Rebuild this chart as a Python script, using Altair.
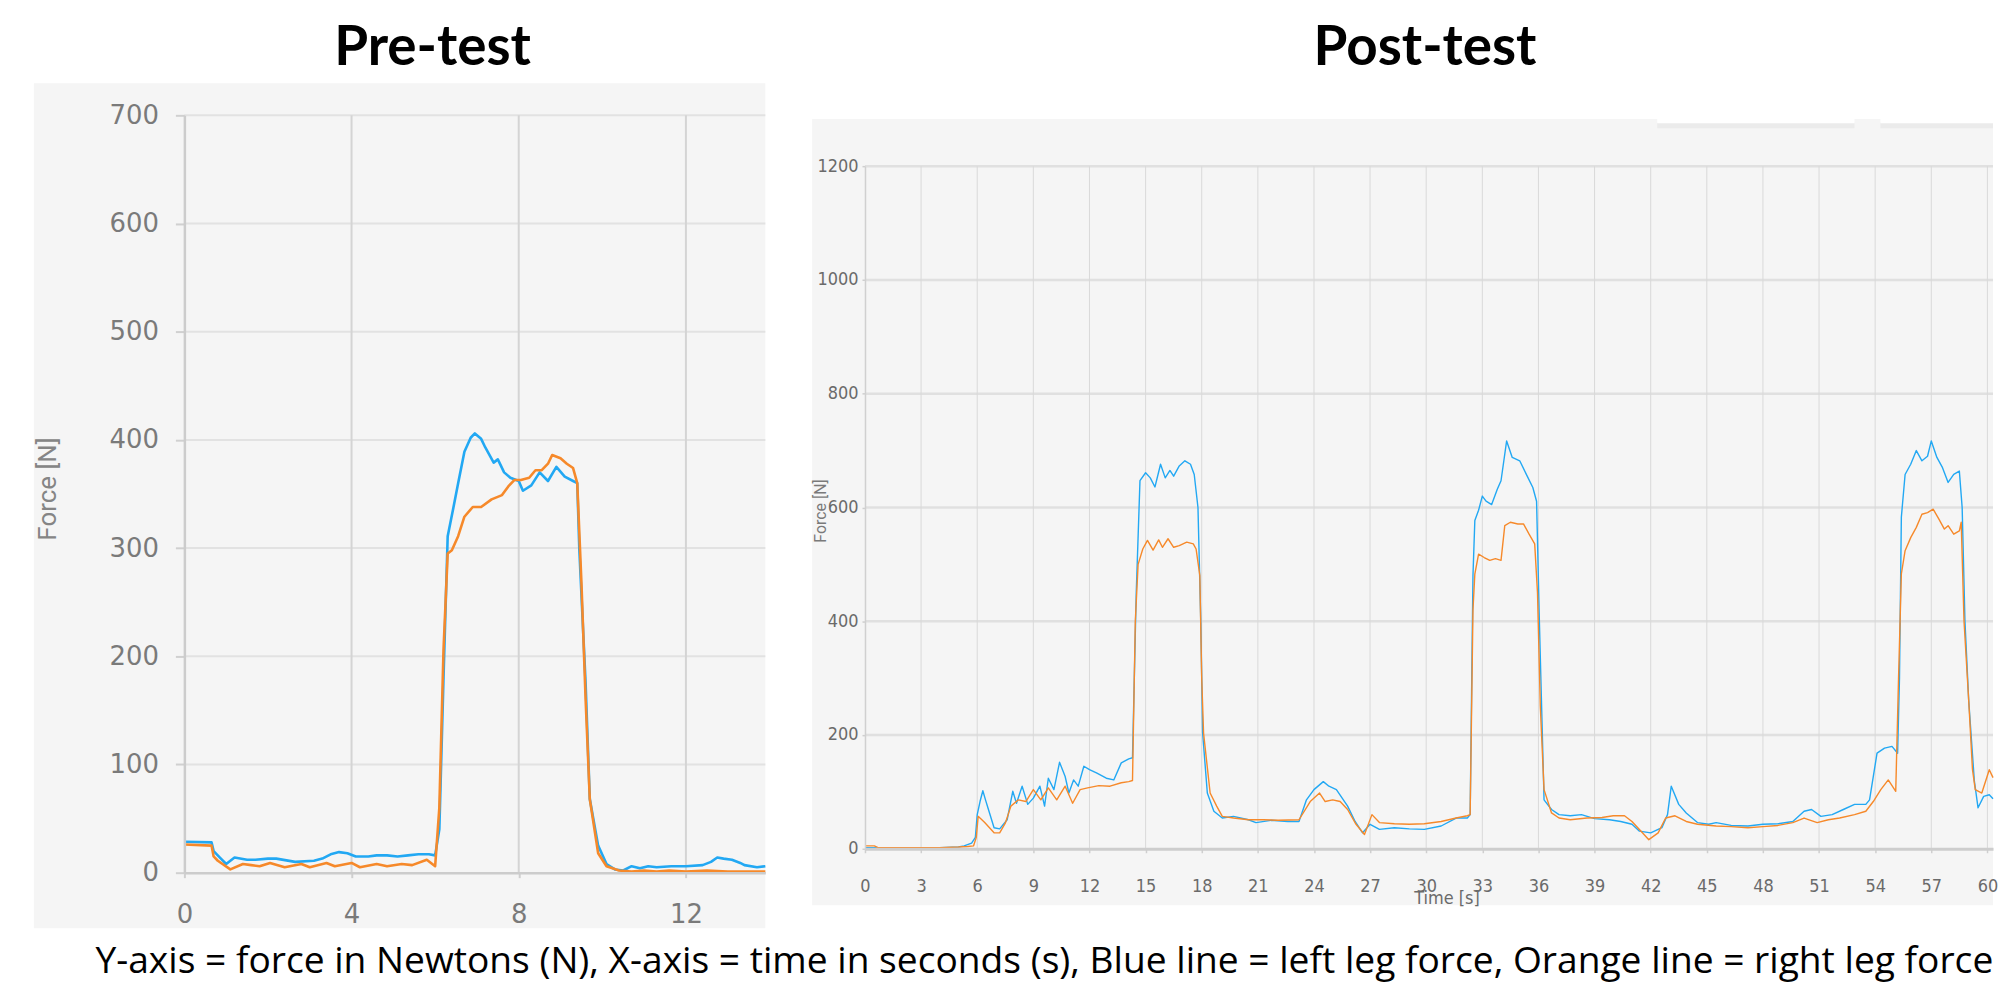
import altair as alt
import pandas as pd

# ---------------- data ----------------
PANEL_TITLES = ["Pre-test", "Post-test"]
CAPTION = ("Y-axis = force in Newtons (N), X-axis = time in seconds (s), "
           "Blue line = left leg force, Orange line = right leg force")
LEGS = ["Left leg", "Right leg"]

# Pre-test, left leg (blue)
pre_left_t = [0, 0.65, 0.7, 0.85, 1.0, 1.2, 1.5, 1.7, 2.0, 2.2, 2.65, 3.1, 3.3, 3.5, 3.7, 3.9,
              4.1, 4.4, 4.6, 4.85, 5.1, 5.35, 5.6, 5.85, 6.0, 6.1, 6.2, 6.3, 6.45, 6.55, 6.7,
              6.85, 6.95, 7.1, 7.2, 7.4, 7.5, 7.65, 7.8, 8.0, 8.1, 8.3, 8.5, 8.7, 8.9, 9.1, 9.3,
              9.4, 9.45, 9.6, 9.7, 9.9, 10.1, 10.3, 10.5, 10.7, 10.9, 11.1, 11.3, 11.65, 12.0,
              12.4, 12.6, 12.75, 12.9, 13.1, 13.3, 13.4, 13.7, 13.9]
pre_left_v = [28.6, 28, 20, 14, 8, 14, 12, 12, 13, 13, 10, 11, 13, 17, 19, 18,
              15, 15, 16, 16, 15, 16, 17, 17, 16, 40, 180, 311, 340, 360, 389,
              402, 406, 401, 393, 379, 382, 370, 365, 362, 353, 358, 370, 362, 375, 366, 362,
              360, 298, 175, 68, 25, 8, 3, 2, 6, 4, 6, 5, 6, 6,
              7, 10, 14, 13, 12, 9, 7, 5, 6]

# Pre-test, right leg (orange)
pre_right_t = [0, 0.65, 0.7, 0.8, 1.1, 1.4, 1.6, 1.8, 2.05, 2.4, 2.8, 3.0, 3.4, 3.6, 4.0, 4.2,
               4.6, 4.85, 5.2, 5.45, 5.8, 6.0, 6.1, 6.2, 6.3, 6.4, 6.55, 6.7, 6.9, 7.1, 7.35,
               7.6, 7.75, 7.9, 8.05, 8.25, 8.4, 8.55, 8.7, 8.8, 9.0, 9.15, 9.3, 9.4, 9.5, 9.6,
               9.7, 9.9, 10.1, 10.4, 10.7, 11.0, 11.3, 11.6, 12.0, 12.5, 13.0, 13.5, 13.9]
pre_right_v = [26, 25, 15, 11, 3, 8, 7, 6, 9, 5, 8, 5, 9, 6, 9, 5,
               8, 6, 8, 7, 12, 6, 60, 206, 295, 298, 311, 329, 338, 338, 345,
               349, 357, 363, 363, 365, 372, 372, 378, 386, 383, 378, 374, 360, 268, 160,
               68, 18, 6, 2, 1, 2, 1, 2, 1, 2, 1, 1, 1]

# Post-test, left leg (blue)
post_left_t = [0, 1, 2, 3, 4, 5, 5.3, 5.7, 5.9, 6.0, 6.15, 6.3, 6.45, 6.6, 6.9, 7.2, 7.6, 7.9,
               8.1, 8.4, 8.7, 9.0, 9.35, 9.6, 9.8, 10.1, 10.4, 10.7, 10.9, 11.15, 11.4, 11.7,
               12.0, 12.4, 12.9, 13.3, 13.7, 14.1, 14.3, 14.5, 14.7, 15.0, 15.25, 15.5, 15.8,
               16.05, 16.3, 16.5, 16.8, 17.1, 17.4, 17.6, 17.8, 17.95, 18.05, 18.3, 18.65, 19.1,
               19.7, 20.5, 20.9, 21.7, 22.6, 23.2, 23.6, 24.0, 24.5, 24.8, 25.2, 25.8, 26.2,
               26.6, 27.0, 27.5, 28.3, 29.1, 29.9, 30.8, 31.6, 32.2, 32.35, 32.5, 32.6, 32.8,
               33.0, 33.2, 33.5, 33.8, 34.0, 34.3, 34.6, 35.0, 35.4, 35.7, 35.9, 36.05, 36.3,
               36.7, 37.1, 37.7, 38.3, 39.0, 39.8, 40.4, 41.0, 41.4, 42.0, 42.6, 42.9, 43.1,
               43.5, 43.9, 44.5, 45.1, 45.5, 46.3, 47.2, 48.0, 48.8, 49.6, 50.2, 50.6, 51.1,
               51.7, 52.3, 52.9, 53.5, 53.7, 54.1, 54.5, 54.9, 55.2, 55.3, 55.4, 55.6, 55.9,
               56.2, 56.5, 56.8, 57.0, 57.3, 57.6, 57.9, 58.2, 58.5, 58.65, 58.8, 59.0, 59.3,
               59.5, 59.8, 60.1, 60.3]
post_left_v = [2, 2, 2, 2, 2, 3, 5, 10, 20, 60, 83, 102, 85, 69, 37, 35, 51, 101,
               80, 110, 78, 89, 110, 75, 124, 104, 152, 127, 98, 121, 110, 145,
               139, 133, 124, 121, 151, 158, 160, 450, 647, 661, 652, 636, 676,
               652, 665, 655, 673, 682, 676, 658, 600, 400, 203, 98, 66, 54,
               57, 51, 46, 50, 48, 48, 86, 104, 118, 110, 104, 75, 48,
               28, 43, 34, 37, 35, 34, 40, 54, 54, 60, 480, 577, 595,
               620, 611, 605, 632, 647, 717, 688, 682, 655, 635, 611, 400, 86,
               69, 60, 58, 60, 53, 51, 48, 43, 31, 28, 37, 60, 110,
               78, 63, 46, 43, 46, 41, 40, 43, 44, 48, 66, 69, 57,
               60, 69, 78, 78, 86, 168, 177, 180, 168, 300, 583, 658, 676,
               700, 682, 690, 717, 688, 670, 644, 658, 664, 600, 400, 261, 120,
               72, 92, 95, 88]

# Post-test, right leg (orange)
post_right_t = [0, 0.5, 0.7, 1, 2, 3, 4, 5, 5.5, 5.8, 5.95, 6.05, 6.4, 6.9, 7.2, 7.5, 7.8, 8.2,
                8.6, 9.0, 9.4, 9.8, 10.25, 10.7, 11.1, 11.5, 11.9, 12.5, 13.1, 13.7, 14.1, 14.3,
                14.45, 14.6, 14.85, 15.1, 15.4, 15.7, 15.9, 16.2, 16.5, 16.8, 17.2, 17.55, 17.7,
                17.9, 18.0, 18.1, 18.45, 18.8, 19.1, 19.7, 20.5, 21.3, 22.1, 23.2, 23.8, 24.3,
                24.6, 25.0, 25.4, 25.8, 26.25, 26.7, 27.1, 27.5, 28.3, 29.1, 29.9, 30.8, 31.6,
                32.2, 32.35, 32.5, 32.6, 32.8, 33.1, 33.4, 33.7, 34.0, 34.2, 34.5, 34.9, 35.2,
                35.5, 35.8, 35.95, 36.1, 36.3, 36.7, 37.1, 37.7, 38.6, 39.4, 40.0, 40.6, 41.0,
                41.4, 41.9, 42.4, 42.8, 43.3, 43.9, 44.5, 45.5, 46.3, 47.2, 48.0, 48.8, 49.6,
                50.2, 50.9, 51.5, 52.1, 52.9, 53.5, 53.9, 54.3, 54.7, 55.1, 55.25, 55.4, 55.6,
                55.9, 56.2, 56.5, 56.8, 57.1, 57.4, 57.7, 57.9, 58.2, 58.5, 58.6, 58.75, 59.0,
                59.2, 59.35, 59.7, 60.1, 60.3]
post_right_v = [5, 5, 2, 2, 2, 2, 2, 3, 4, 5, 20, 57, 46, 28, 28, 45, 75, 86,
                83, 104, 86, 107, 86, 110, 80, 104, 107, 111, 110, 116, 118, 120,
                400, 500, 527, 542, 525, 543, 530, 545, 530, 533, 539, 536, 527,
                480, 300, 203, 98, 75, 57, 54, 51, 51, 50, 51, 83, 98,
                83, 86, 83, 69, 43, 25, 60, 46, 44, 43, 44, 48, 54,
                58, 60, 420, 483, 518, 512, 507, 510, 507, 568, 574, 571, 571,
                553, 536, 450, 250, 104, 63, 54, 51, 54, 55, 58, 58, 48,
                34, 16, 28, 54, 58, 48, 43, 40, 39, 37, 39, 41, 46,
                54, 46, 51, 54, 60, 66, 83, 104, 121, 101, 300, 483, 524,
                547, 565, 588, 591, 597, 580, 562, 568, 553, 559, 574, 400, 261,
                140, 104, 98, 139, 125]

# axes
pre_x_ticks = [0, 4, 8, 12]
pre_y_ticks = [0, 100, 200, 300, 400, 500, 600, 700]
post_x_ticks = list(range(0, 61, 3))
post_y_ticks = [0, 200, 400, 600, 800, 1000, 1200]
pre_x_domain = [0, 13.9]
pre_y_domain = [0, 700]
post_x_domain = [0, 60.3]
post_y_domain = [0, 1200]

BLUE = "#22a8f3"
ORANGE = "#f6892a"
BG = "#f5f5f5"
NARROW = "'Liberation Sans Narrow', 'DejaVu Sans Condensed', 'Roboto Condensed', Roboto, sans-serif"


def frame(t_l, v_l, t_r, v_r):
    a = pd.DataFrame({"t": t_l, "v": v_l, "leg": LEGS[0]})
    b = pd.DataFrame({"t": t_r, "v": v_r, "leg": LEGS[1]})
    return pd.concat([a, b], ignore_index=True)


pre_df = frame(pre_left_t, pre_left_v, pre_right_t, pre_right_v)
post_df = frame(post_left_t, post_left_v, post_right_t, post_right_v)

color = alt.Color("leg:N", scale=alt.Scale(domain=LEGS, range=[BLUE, ORANGE]), legend=None)
one = alt.Data(values=[{}])

# ---------------- left panel (pre-test) ----------------
LW, LH = 583, 760
xs_pre = alt.Scale(domain=pre_x_domain, nice=False, zero=False)
ys_pre = alt.Scale(domain=pre_y_domain, nice=False)
xa_pre = alt.Axis(values=pre_x_ticks, grid=False, title=None, tickSize=5, tickColor="#cfcfcf",
                  tickWidth=2, domainColor="#cccccc", domainWidth=2.5, labelFont="DejaVu Sans",
                  labelFontSize=26, labelColor="#7a7a7a", labelPadding=24, labelFlush=False,
                  labelOverlap=False, zindex=1)
ya_pre = alt.Axis(values=pre_y_ticks, grid=False, title=None, tickSize=9, tickColor="#d0d0d0",
                  tickWidth=2, domainColor="#cccccc", domainWidth=2.5, labelFont="DejaVu Sans",
                  labelFontSize=26, labelColor="#7a7a7a", labelPadding=17, labelFlush=False,
                  labelOverlap=False, zindex=1)

anchor = alt.Chart(one).mark_rect(color="white").encode(
    x=alt.value(-177), x2=alt.value(-176), y=alt.value(-105.3), y2=alt.value(-104.3))
bg_pre = alt.Chart(one).mark_rect(color=BG).encode(
    x=alt.value(-151), x2=alt.value(LW), y=alt.value(-32.3), y2=alt.value(815.7))
hgrid_pre = alt.Chart(pd.DataFrame({"v": pre_y_ticks[1:]})).mark_rule(
    color="#e2e2e2", strokeWidth=2).encode(y=alt.Y("v:Q", scale=ys_pre, axis=ya_pre))
vgrid_pre = alt.Chart(pd.DataFrame({"t": pre_x_ticks[1:]})).mark_rule(
    color="#d4d4d4", strokeWidth=2).encode(x=alt.X("t:Q", scale=xs_pre, axis=xa_pre))
lines_pre = alt.Chart(pre_df).mark_line(strokeWidth=2.6, strokeJoin="round").encode(
    x=alt.X("t:Q", scale=xs_pre, axis=xa_pre),
    y=alt.Y("v:Q", scale=ys_pre, axis=ya_pre),
    color=color)
title_pre = alt.Chart(one).mark_text(
    text=PANEL_TITLES[0], font="Lato", fontWeight="bold", fontSize=55, color="black",
    align="center", baseline="alphabetic").encode(x=alt.value(249), y=alt.value(-50.3))
ytitle_pre = alt.Chart(one).mark_text(
    text="Force [N]", font="Roboto", fontSize=26, color="#858585", angle=270,
    align="center", baseline="middle").encode(x=alt.value(-137), y=alt.value(375))
caption = alt.Chart(one).mark_text(
    text=CAPTION, font="Open Sans", fontSize=37.3, color="black",
    align="center", baseline="alphabetic").encode(x=alt.value(863), y=alt.value(861))

left = alt.layer(anchor, bg_pre, hgrid_pre, vgrid_pre, lines_pre, title_pre, ytitle_pre,
                 caption).properties(width=LW, height=LH)

# ---------------- right panel (post-test) ----------------
RW, RH = 1132, 736
xs_post = alt.Scale(domain=post_x_domain, nice=False, zero=False)
ys_post = alt.Scale(domain=post_y_domain, range=[736, 51], nice=False)
xa_post = alt.Axis(values=post_x_ticks, grid=False, title=None, tickSize=4, tickColor="#cfcfcf",
                   tickWidth=1.5, domainColor="#cdcdcd", domainWidth=3, labelFont=NARROW,
                   labelFontSize=18, labelColor="#6a6a6a", labelPadding=25, labelFlush=False,
                   labelOverlap=False, format="d", zindex=1)
ya_post = alt.Axis(values=post_y_ticks, grid=False, title=None, tickSize=3, tickColor="#cfcfcf",
                   tickWidth=1.5, domainColor="#d0d0d0", domainWidth=1.5, labelFont=NARROW,
                   labelFontSize=18, labelColor="#6a6a6a", labelPadding=4, labelFlush=False,
                   labelOverlap=False, format="d", zindex=1)

bg_post = alt.Chart(one).mark_rect(color=BG).encode(
    x=alt.value(-53), x2=alt.value(RW), y=alt.value(3.7), y2=alt.value(792.7))
tabs = alt.Chart(pd.DataFrame({"x0": [795, 1019], "x1": [993, 1132]}))
tab_shadow = tabs.mark_rect(color="#ebebeb").encode(
    x=alt.X("x0:Q", scale=None), x2="x1:Q", y=alt.value(7), y2=alt.value(13))
tab_white = tabs.mark_rect(color="white").encode(
    x=alt.X("x0:Q", scale=None), x2="x1:Q", y=alt.value(-4), y2=alt.value(8))
hgrid_post = alt.Chart(pd.DataFrame({"v": post_y_ticks[1:]})).mark_rule(
    color="#e0e0e0", strokeWidth=2.5).encode(y=alt.Y("v:Q", scale=ys_post, axis=ya_post))
vgrid_post = alt.Chart(pd.DataFrame({"t": post_x_ticks[1:],
                                     "lo": post_y_domain[0], "hi": post_y_domain[1]})).mark_rule(
    color="#d9d9d9", strokeWidth=1).encode(
    x=alt.X("t:Q", scale=xs_post, axis=xa_post),
    y=alt.Y("lo:Q", scale=ys_post, axis=ya_post), y2="hi:Q")
lines_post = alt.Chart(post_df).mark_line(strokeWidth=1.4, strokeJoin="round").encode(
    x=alt.X("t:Q", scale=xs_post, axis=xa_post),
    y=alt.Y("v:Q", scale=ys_post, axis=ya_post),
    color=color)
title_post = alt.Chart(one).mark_text(
    text=PANEL_TITLES[1], font="Lato", fontWeight="bold", fontSize=55, color="black",
    align="center", baseline="alphabetic").encode(x=alt.value(562), y=alt.value(-50.3))
ytitle_post = alt.Chart(one).mark_text(
    text="Force [N]", font="Roboto", fontSize=16, color="#7a7a7a", angle=270,
    align="center", baseline="middle").encode(x=alt.value(-44), y=alt.value(397))
xtitle_post = alt.Chart(one).mark_text(
    text="Time [s]", font=NARROW, fontSize=18, color="#6a6a6a",
    align="center", baseline="middle").encode(x=alt.value(584), y=alt.value(786))

right = alt.layer(bg_post, tab_shadow, tab_white, hgrid_post, vgrid_post, lines_post,
                  title_post, ytitle_post, xtitle_post).properties(width=RW, height=RH)

chart = alt.hconcat(left, right, spacing=100, bounds="flush").properties(
    padding=0, background="white"
).configure_view(stroke=None)

chart.save("out.html", embed_options={"renderer": "svg", "actions": False})
